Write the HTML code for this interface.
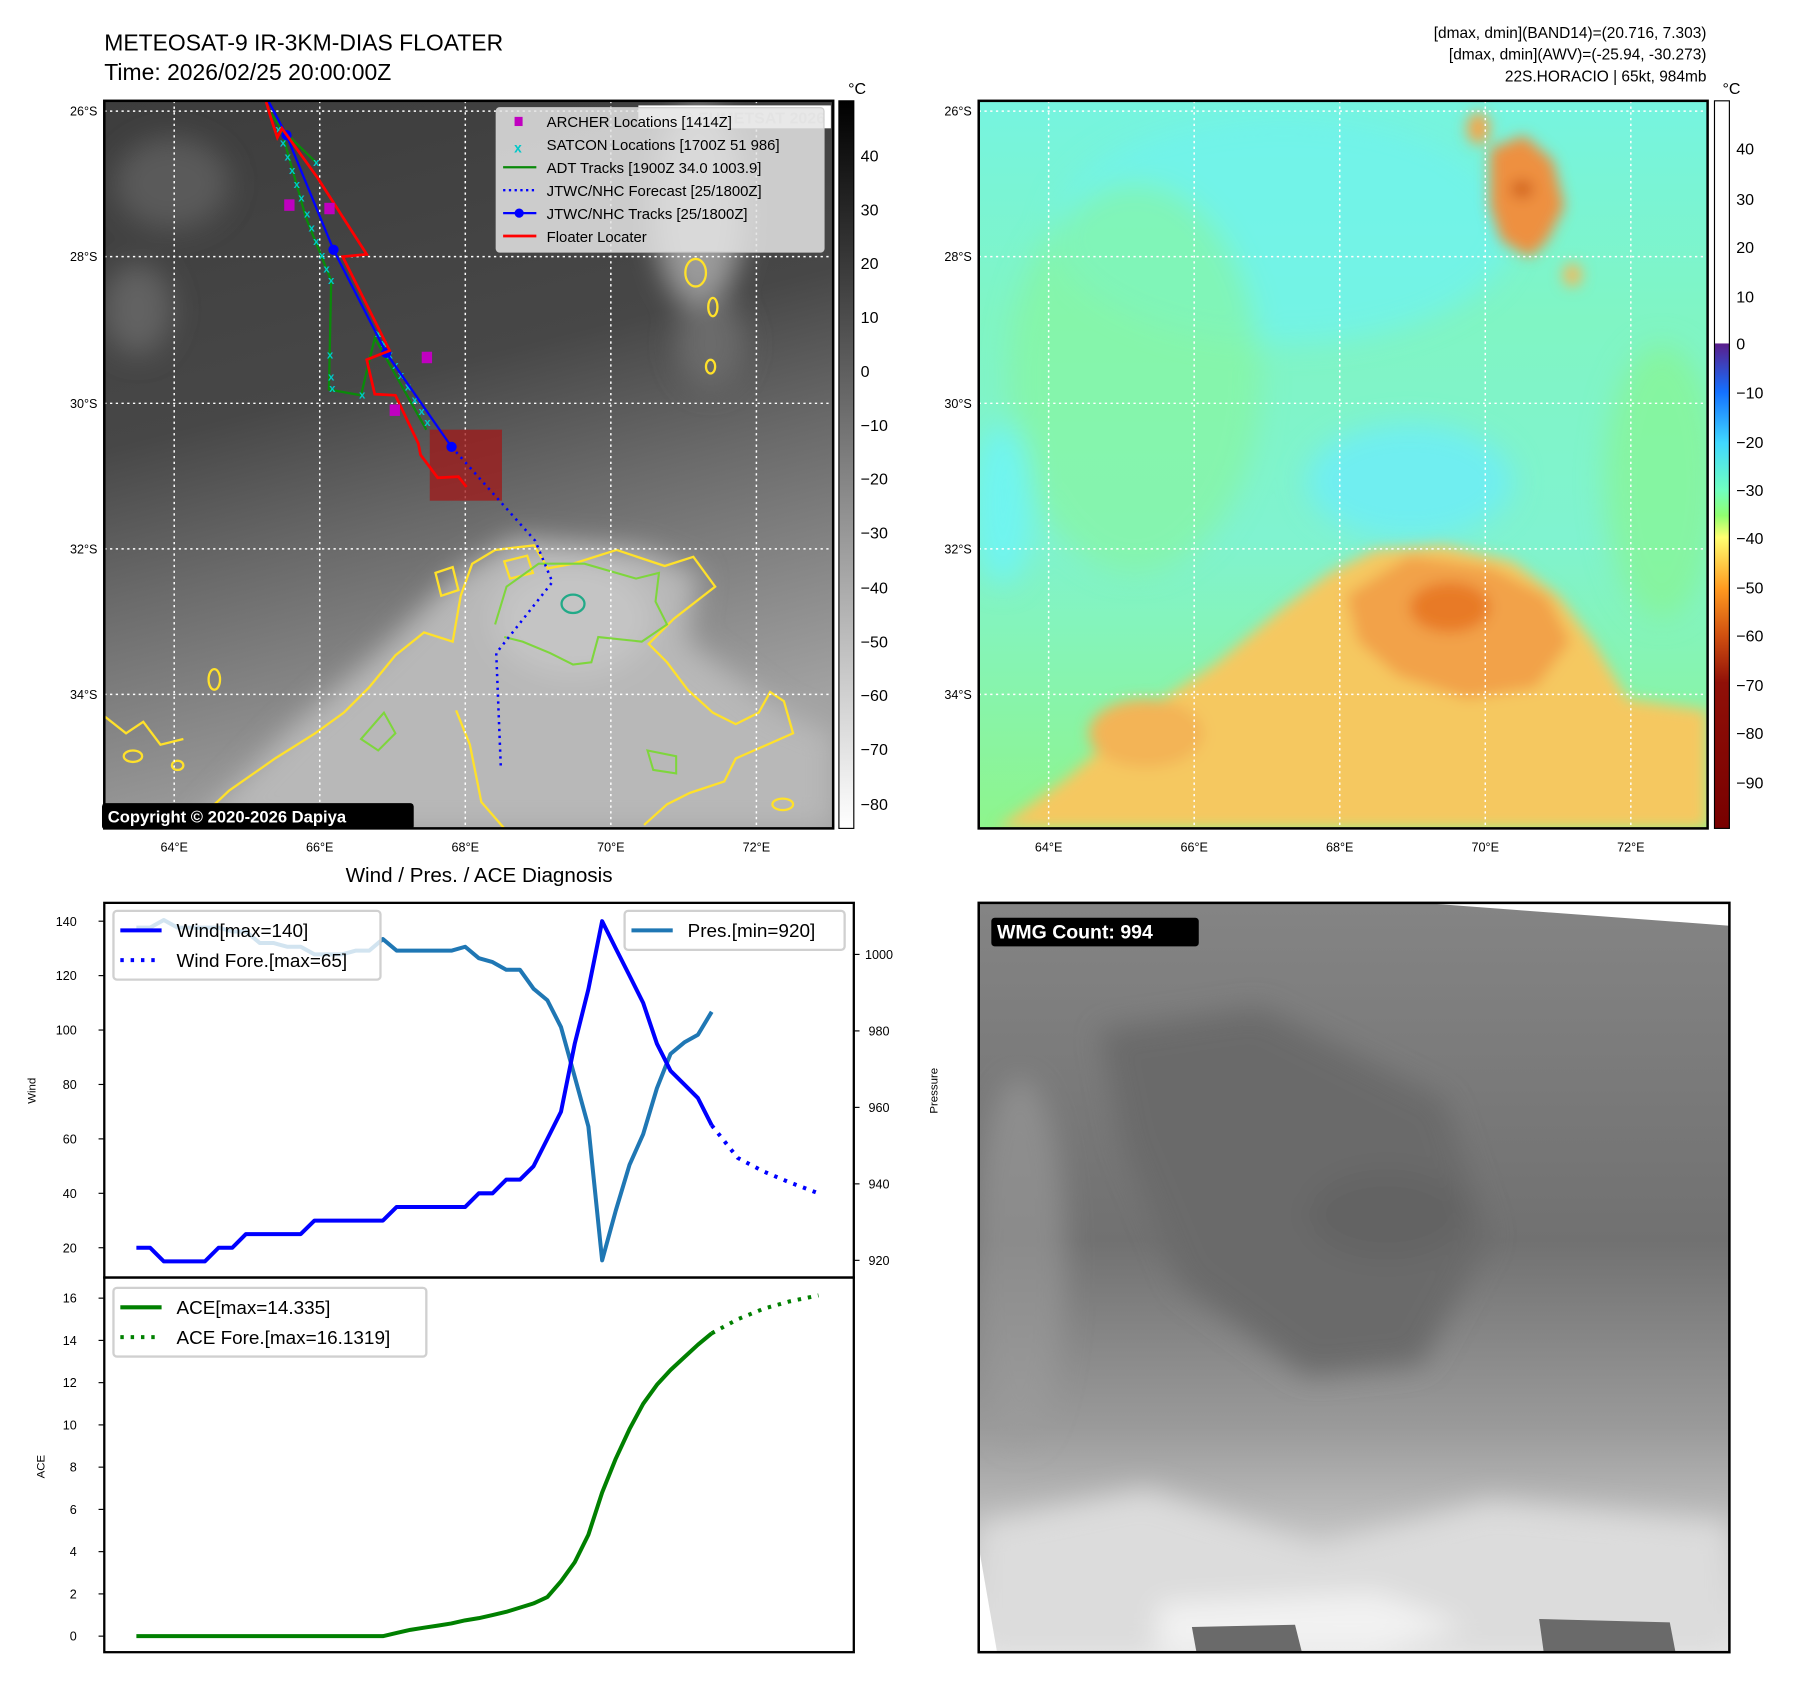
<!DOCTYPE html>
<html><head><meta charset="utf-8">
<style>
html,body{margin:0;padding:0;background:#fff;}
svg{display:block;font-family:"Liberation Sans","DejaVu Sans",sans-serif;}
</style></head>
<body>
<svg id="root" width="1797" height="1690" viewBox="0 0 1568 1475" preserveAspectRatio="none" xmlns="http://www.w3.org/2000/svg">
<defs>
 <linearGradient id="irbg" x1="0" y1="0" x2="0.25" y2="1">
  <stop offset="0" stop-color="#3d3d3d"/><stop offset="0.45" stop-color="#474747"/><stop offset="0.65" stop-color="#6a6a6a"/><stop offset="1" stop-color="#a2a2a2"/>
 </linearGradient>
 <linearGradient id="cbgray" x1="0" y1="0" x2="0" y2="1">
  <stop offset="0" stop-color="#000"/><stop offset="1" stop-color="#fff"/>
 </linearGradient>
 <linearGradient id="cbcol" x1="0" y1="0" x2="0" y2="1">
  <stop offset="0" stop-color="#fff"/><stop offset="0.333" stop-color="#fff"/>
  <stop offset="0.334" stop-color="#5a1e8c"/><stop offset="0.40" stop-color="#1470ff"/>
  <stop offset="0.47" stop-color="#40d8ff"/><stop offset="0.535" stop-color="#70ffc0"/>
  <stop offset="0.57" stop-color="#90ff70"/><stop offset="0.60" stop-color="#ffff70"/>
  <stop offset="0.67" stop-color="#ff9a20"/><stop offset="0.735" stop-color="#d05010"/>
  <stop offset="0.80" stop-color="#901008"/><stop offset="1" stop-color="#780000"/>
 </linearGradient>
 <linearGradient id="wvbg" x1="0" y1="0" x2="0" y2="1">
  <stop offset="0" stop-color="#76f4e0"/><stop offset="0.3" stop-color="#80f5c4"/><stop offset="0.6" stop-color="#80f3d0"/><stop offset="1" stop-color="#8ef58c"/>
 </linearGradient>
 <linearGradient id="mwbg" x1="0" y1="0" x2="0" y2="1">
  <stop offset="0" stop-color="#848484"/><stop offset="0.45" stop-color="#717171"/><stop offset="0.7" stop-color="#9a9a9a"/><stop offset="0.85" stop-color="#c4c4c4"/><stop offset="1" stop-color="#e8e8e8"/>
 </linearGradient>
 <filter id="blur12"><feGaussianBlur stdDeviation="12"/></filter>
 <filter id="blur6"><feGaussianBlur stdDeviation="6"/></filter>
 <clipPath id="clipL"><rect x="91" y="88" width="636" height="635"/></clipPath>
 <clipPath id="clipR"><rect x="854" y="88" width="636" height="635"/></clipPath>
 <clipPath id="clipM"><rect x="854" y="788" width="655" height="654"/></clipPath>
</defs>

<text x="91" y="44" font-size="20">METEOSAT-9 IR-3KM-DIAS FLOATER</text>
<text x="91" y="70" font-size="20">Time: 2026/02/25 20:00:00Z</text>
<g font-size="13.5" text-anchor="end">
 <text x="1489" y="33">[dmax, dmin](BAND14)=(20.716, 7.303)</text>
 <text x="1489" y="52">[dmax, dmin](AWV)=(-25.94, -30.273)</text>
 <text x="1489" y="71">22S.HORACIO | 65kt, 984mb</text>
</g>

<!-- IR map -->
<g clip-path="url(#clipL)">
 <rect x="91" y="88" width="636" height="635" fill="url(#irbg)"/>
 <g filter="url(#blur12)" fill="#b8b8b8">
  <path d="M170,723 L250,640 L330,570 L400,500 L450,470 L560,480 L610,500 L600,560 L680,620 L727,640 L727,723Z"/>
  <ellipse cx="500" cy="540" rx="70" ry="50" fill="#c4c4c4"/>
  <ellipse cx="610" cy="180" rx="40" ry="90" fill="#9a9a9a"/>
  <ellipse cx="150" cy="160" rx="50" ry="40" fill="#5a5a5a"/>
  <ellipse cx="120" cy="270" rx="30" ry="40" fill="#626262"/>
  <ellipse cx="620" cy="300" rx="30" ry="40" fill="#6a6a6a"/>
 </g>
 <g fill="none" stroke="#ffe12a" stroke-width="2">
  <path d="M165,723 L200,690 L240,662 L275,640 L300,622 L322,600 L345,572 L370,552 L395,560 L402,520 L412,492 L432,480 L466,476 L478,496 L500,492 L538,480 L580,494 L605,486 L624,512 L588,540 L566,562 L582,578 L600,602 L622,622 L642,632 L662,622 L672,604 L684,612 L692,640 L642,662 L632,682 L602,692 L582,702 L562,720"/>
  <path d="M91,625 L110,640 L125,630 L140,650 L160,645"/>
  <path d="M398,620 L410,650 L420,700 L440,723"/>
  <ellipse cx="607" cy="238" rx="9" ry="12"/>
  <ellipse cx="622" cy="268" rx="4" ry="8"/>
  <ellipse cx="620" cy="320" rx="4" ry="6"/>
  <ellipse cx="683" cy="702" rx="9" ry="5"/>
  <ellipse cx="187" cy="593" rx="5" ry="9"/>
  <ellipse cx="116" cy="660" rx="8" ry="5"/>
  <ellipse cx="155" cy="668" rx="5" ry="4"/>
  <path d="M380,500 L395,495 L400,515 L385,520Z"/>
  <path d="M440,490 L460,485 L465,500 L445,505Z"/>
 </g>
 <g fill="none" stroke="#7ed63c" stroke-width="1.8">
  <path d="M432,545 L442,512 L470,492 L510,492 L555,505 L575,500 L572,525 L582,545 L560,560 L522,556 L516,578 L500,580 L480,570 L456,560 L440,556"/>
  <path d="M335,622 L345,640 L330,655 L315,645Z"/>
  <path d="M565,655 L590,660 L590,675 L570,672Z"/>
 </g>
 <ellipse cx="500" cy="527" rx="10" ry="8" fill="none" stroke="#22aa88" stroke-width="2"/>
 <g stroke="#fff" stroke-width="1.3" stroke-dasharray="2,3">
  <line x1="152" y1="88" x2="152" y2="723"/><line x1="279" y1="88" x2="279" y2="723"/><line x1="406" y1="88" x2="406" y2="723"/><line x1="533" y1="88" x2="533" y2="723"/><line x1="660" y1="88" x2="660" y2="723"/>
  <line x1="91" y1="97" x2="727" y2="97"/><line x1="91" y1="224" x2="727" y2="224"/><line x1="91" y1="352" x2="727" y2="352"/><line x1="91" y1="479" x2="727" y2="479"/><line x1="91" y1="606" x2="727" y2="606"/>
 </g>
 <rect x="375" y="375" width="63" height="62" fill="#a01818" opacity="0.75"/>
 <polyline points="394,390 467,472 482,508 433,570 437,670" fill="none" stroke="#0000ff" stroke-width="2.2" stroke-dasharray="2,4"/>
 <polyline points="235,97 245,112 267,190 289,245 287,340 315,345 327,295 372,375" fill="none" stroke="#0a8a0a" stroke-width="2"/>
 <line x1="245" y1="112" x2="276" y2="142" stroke="#0a8a0a" stroke-width="2"/>
 <g fill="#00c8c8" font-size="10" text-anchor="middle" font-weight="bold">
  <text x="243" y="116">x</text><text x="247" y="128">x</text><text x="251" y="140">x</text><text x="255" y="152">x</text><text x="259" y="164">x</text><text x="263" y="176">x</text><text x="268" y="190">x</text><text x="272" y="202">x</text><text x="276" y="214">x</text><text x="281" y="226">x</text><text x="285" y="238">x</text><text x="289" y="248">x</text><text x="276" y="145">x</text>
  <text x="288" y="313">x</text><text x="289" y="332">x</text><text x="290" y="342">x</text><text x="316" y="348">x</text>
  <text x="330" y="294">x</text><text x="335" y="303">x</text><text x="340" y="313">x</text><text x="345" y="322">x</text><text x="350" y="331">x</text><text x="356" y="341">x</text><text x="362" y="352">x</text><text x="368" y="362">x</text><text x="373" y="372">x</text>
 </g>
 <polyline points="233,86 250,118 291,218 337,308 394,390" fill="none" stroke="#0000ff" stroke-width="2"/>
 <g fill="#0000ff"><circle cx="250" cy="118" r="4.5"/><circle cx="291" cy="218" r="4.5"/><circle cx="337" cy="308" r="4.5"/><circle cx="394" cy="390" r="4.5"/></g>
 <polyline points="232,88 237,105 242,120 246,112 277,155 320,222 299,224 340,306 320,314 327,344 345,345 365,387 367,397 382,417 400,416 407,425" fill="none" stroke="#ff0000" stroke-width="2.4"/>
 <g fill="#c000c0">
  <rect x="248" y="174" width="9" height="10"/><rect x="283" y="177" width="9" height="10"/><rect x="368" y="307" width="9" height="10"/><rect x="340" y="353" width="9" height="10"/>
 </g>
</g>
<rect x="91" y="88" width="636" height="635" fill="none" stroke="#000" stroke-width="2.2"/>
<g>
 <rect x="557" y="92" width="168" height="20" fill="#fff"/>
 <text x="720" y="108" font-size="14" font-weight="bold" fill="#ddd" text-anchor="end">© EUMETSAT 2026</text>
 <rect x="433" y="94" width="286" height="126" rx="3" fill="#e4e4e4" fill-opacity="0.85" stroke="#ccc"/>
 <rect x="449" y="102" width="7" height="8" fill="#c000c0"/>
 <text x="477" y="111" font-size="13">ARCHER Locations [1414Z]</text>
 <text x="452" y="133" font-size="12" fill="#00c8c8" text-anchor="middle" font-weight="bold">x</text>
 <text x="477" y="131" font-size="13">SATCON Locations [1700Z 51 986]</text>
 <line x1="439" y1="146" x2="468" y2="146" stroke="#0a8a0a" stroke-width="2"/>
 <text x="477" y="151" font-size="13">ADT Tracks [1900Z 34.0 1003.9]</text>
 <line x1="439" y1="166" x2="468" y2="166" stroke="#0000ff" stroke-width="2" stroke-dasharray="2,3"/>
 <text x="477" y="171" font-size="13">JTWC/NHC Forecast [25/1800Z]</text>
 <line x1="439" y1="186" x2="468" y2="186" stroke="#0000ff" stroke-width="2"/><circle cx="453" cy="186" r="4" fill="#0000ff"/>
 <text x="477" y="191" font-size="13">JTWC/NHC Tracks [25/1800Z]</text>
 <line x1="439" y1="206" x2="468" y2="206" stroke="#ff0000" stroke-width="2.4"/>
 <text x="477" y="211" font-size="13">Floater Locater</text>
</g>
<g>
 <rect x="89" y="701" width="272" height="23" rx="3" fill="#000"/>
 <text x="94" y="718" font-size="14.5" font-weight="bold" fill="#fff">Copyright © 2020-2026 Dapiya</text>
</g>
<g font-size="11">
 <g text-anchor="middle"><text x="152" y="743">64°E</text><text x="279" y="743">66°E</text><text x="406" y="743">68°E</text><text x="533" y="743">70°E</text><text x="660" y="743">72°E</text></g>
 <g text-anchor="end"><text x="85" y="101">26°S</text><text x="85" y="228">28°S</text><text x="85" y="356">30°S</text><text x="85" y="483">32°S</text><text x="85" y="610">34°S</text></g>
</g>
<g>
 <rect x="732" y="88" width="13" height="635" fill="url(#cbgray)" stroke="#000" stroke-width="1"/>
 <text x="740" y="82" font-size="14">°C</text>
 <g font-size="14">
  <text x="751" y="141">40</text><text x="751" y="188">30</text><text x="751" y="235">20</text><text x="751" y="282">10</text><text x="751" y="329">0</text><text x="751" y="376">−10</text><text x="751" y="423">−20</text><text x="751" y="470">−30</text><text x="751" y="518">−40</text><text x="751" y="565">−50</text><text x="751" y="612">−60</text><text x="751" y="659">−70</text><text x="751" y="707">−80</text>
 </g>
</g>

<!-- WV map -->
<g clip-path="url(#clipR)">
 <rect x="854" y="88" width="636" height="635" fill="url(#wvbg)"/>
 <g filter="url(#blur12)">
  <ellipse cx="1120" cy="200" rx="200" ry="100" fill="#70f2ec" opacity="0.8"/>
  <ellipse cx="990" cy="330" rx="110" ry="170" fill="#88f59a" opacity="0.6"/>
  <ellipse cx="875" cy="440" rx="25" ry="70" fill="#6ff4f0"/>
  <ellipse cx="1230" cy="420" rx="90" ry="50" fill="#70eef0"/>
  <ellipse cx="1450" cy="420" rx="50" ry="120" fill="#88f590" opacity="0.7"/>
 </g>
 <g filter="url(#blur6)">
  <path d="M870,723 L930,680 L1000,620 L1060,580 L1120,530 L1160,500 L1200,480 L1260,476 L1320,490 L1360,520 L1390,560 L1420,610 L1490,620 L1490,723Z" fill="#f5c860"/>
  <path d="M1175,520 L1230,485 L1300,495 L1350,520 L1370,560 L1340,600 L1280,610 L1220,590 L1185,560Z" fill="#f2a24a"/>
  <ellipse cx="1265" cy="530" rx="35" ry="22" fill="#e87a28"/>
  <path d="M1300,130 L1330,118 L1355,140 L1365,180 L1350,210 L1335,225 L1310,210 L1300,180Z" fill="#ee9040"/>
  <ellipse cx="1328" cy="165" rx="10" ry="8" fill="#d2641e"/>
  <ellipse cx="1290" cy="112" rx="10" ry="14" fill="#f5a548"/>
  <ellipse cx="1372" cy="240" rx="8" ry="10" fill="#f6b858"/>
  <ellipse cx="1000" cy="640" rx="50" ry="30" fill="#f3b456"/>
 </g>
 <g stroke="#fff" stroke-width="1.3" stroke-dasharray="2,3">
  <line x1="915" y1="88" x2="915" y2="723"/><line x1="1042" y1="88" x2="1042" y2="723"/><line x1="1169" y1="88" x2="1169" y2="723"/><line x1="1296" y1="88" x2="1296" y2="723"/><line x1="1423" y1="88" x2="1423" y2="723"/>
  <line x1="854" y1="97" x2="1490" y2="97"/><line x1="854" y1="224" x2="1490" y2="224"/><line x1="854" y1="352" x2="1490" y2="352"/><line x1="854" y1="479" x2="1490" y2="479"/><line x1="854" y1="606" x2="1490" y2="606"/>
 </g>
</g>
<rect x="854" y="88" width="636" height="635" fill="none" stroke="#000" stroke-width="2.2"/>
<g font-size="11">
 <g text-anchor="middle"><text x="915" y="743">64°E</text><text x="1042" y="743">66°E</text><text x="1169" y="743">68°E</text><text x="1296" y="743">70°E</text><text x="1423" y="743">72°E</text></g>
 <g text-anchor="end"><text x="848" y="101">26°S</text><text x="848" y="228">28°S</text><text x="848" y="356">30°S</text><text x="848" y="483">32°S</text><text x="848" y="610">34°S</text></g>
</g>
<g>
 <rect x="1496" y="88" width="13" height="635" fill="url(#cbcol)" stroke="#000" stroke-width="1"/>
 <text x="1503" y="82" font-size="14">°C</text>
 <g font-size="14">
  <text x="1515" y="135">40</text><text x="1515" y="179">30</text><text x="1515" y="221">20</text><text x="1515" y="264">10</text><text x="1515" y="305">0</text><text x="1515" y="348">−10</text><text x="1515" y="391">−20</text><text x="1515" y="433">−30</text><text x="1515" y="475">−40</text><text x="1515" y="518">−50</text><text x="1515" y="560">−60</text><text x="1515" y="603">−70</text><text x="1515" y="645">−80</text><text x="1515" y="688">−90</text>
 </g>
</g>

<!-- Microwave panel -->
<g clip-path="url(#clipM)">
 <rect x="854" y="788" width="655" height="654" fill="url(#mwbg)"/>
 <g filter="url(#blur12)">
  <path d="M960,900 L1100,880 L1260,960 L1300,1080 L1240,1190 L1140,1200 L1030,1120 L980,1000Z" fill="#6a6a6a"/>
  <ellipse cx="1210" cy="1060" rx="70" ry="40" fill="#646464"/>
  <path d="M854,1330 L1000,1300 L1150,1350 L1300,1310 L1509,1330 L1509,1442 L854,1442Z" fill="#dcdcdc"/>
  <path d="M1010,1400 L1200,1390 L1280,1420 L1200,1442 L1010,1442Z" fill="#f2f2f2"/>
  <ellipse cx="890" cy="1100" rx="40" ry="160" fill="#9c9c9c" opacity="0.6"/>
 </g>
 <polygon points="1240,788 1509,788 1509,808" fill="#fff"/>
 <polygon points="854,1350 854,1442 870,1442" fill="#fff"/>
 <polygon points="1040,1420 1130,1418 1136,1442 1044,1442" fill="#6a6a6a"/>
 <polygon points="1343,1413 1457,1416 1462,1442 1347,1442" fill="#6a6a6a"/>
</g>
<rect x="854" y="788" width="655" height="654" fill="none" stroke="#000" stroke-width="2.2"/>
<g>
 <rect x="865" y="801" width="181" height="25" rx="3" fill="#000"/>
 <text x="870" y="819" font-size="17" font-weight="bold" fill="#fff">WMG Count: 994</text>
</g>

<text x="418" y="770" font-size="18" text-anchor="middle">Wind / Pres. / ACE Diagnosis</text>
<g id="chart"></g>
</svg>

<script>
const windObs = [20,20,15,15,15,15,20,20,25,25,25,25,25,30,30,30,30,30,30,35,35,35,35,35,35,40,40,45,45,50,60,70,95,115,140,130,120,110,95,85,80,75,65];
const windFcstIdx = [42,43.9,45.8,47.7,49.8];
const windFcst = [65,53,48,44,40];
const presObs = [1007,1007,1009,1007,1007,1007,1007,1006,1006,1003,1003,1002,1002,1000,1000,1000,1001,1001,1004,1001,1001,1001,1001,1001,1002,999,998,996,996,991,988,981,968,955,920,933,945,953,965,974,977,979,985];
const aceObs = [0,0,0,0,0,0,0,0,0,0,0,0,0,0,0,0,0,0,0,0.15,0.3,0.4,0.5,0.6,0.75,0.85,1.0,1.15,1.35,1.55,1.85,2.6,3.5,4.8,6.8,8.4,9.8,11.0,11.9,12.6,13.2,13.8,14.335];
const aceFcstIdx = [42,43.9,45.8,47.7,49.8];
const aceFcst = [14.335,15.0,15.5,15.85,16.13];
const windTicks = [20,40,60,80,100,120,140];
const presTicks = [920,940,960,980,1000];
const aceTicks = [0,2,4,6,8,10,12,14,16];

const NS = 'http://www.w3.org/2000/svg';
const g = document.getElementById('chart');
const X0 = 91, X1 = 745, TOP = 788, MID = 1115, BOT = 1442;
const xAt = i => 119 + i * (621 - 119) / 42;
const yWind = v => 1089 - (v - 20) * (1089 - 804) / 120;
const yPres = v => 1100 - (v - 920) * (1100 - 833) / 80;
const yAce = v => 1428 - v * (1428 - 1133) / 16;

function mk(tag, attrs, parent) {
  const e = document.createElementNS(NS, tag);
  for (const k in attrs) e.setAttribute(k, attrs[k]);
  (parent || g).appendChild(e);
  return e;
}
function txt(x, y, s, size, anchor, parent) {
  const t = mk('text', {x: x, y: y, 'font-size': size, 'text-anchor': anchor || 'start'}, parent);
  t.textContent = s;
  return t;
}
function line(pts, color, w, dash, name) {
  const p = mk('polyline', {points: pts.map(p => p[0].toFixed(1) + ',' + p[1].toFixed(1)).join(' '), fill: 'none', stroke: color, 'stroke-width': w, 'stroke-linejoin': 'round'});
  if (dash) p.setAttribute('stroke-dasharray', dash);
  
  
  return p;
}

line(presObs.map((v, i) => [xAt(i), yPres(v)]), '#1f77b4', 3.5, null, 'pressure-line');
line(windObs.map((v, i) => [xAt(i), yWind(v)]), '#0000ff', 3.5, null, 'wind-line');
line(windFcst.map((v, i) => [xAt(windFcstIdx[i]), yWind(v)]), '#0000ff', 3.5, '3,6', 'wind-forecast-line');
line(aceObs.map((v, i) => [xAt(i), yAce(v)]), '#008000', 3.5, null, 'ace-line');
line(aceFcst.map((v, i) => [xAt(aceFcstIdx[i]), yAce(v)]), '#008000', 3.5, '3,6', 'ace-forecast-line');

const f1 = mk('rect', {x: X0, y: TOP, width: X1 - X0, height: MID - TOP, fill: 'none', stroke: '#000', 'stroke-width': 2});


const f2 = mk('rect', {x: X0, y: MID, width: X1 - X0, height: BOT - MID, fill: 'none', stroke: '#000', 'stroke-width': 2});



windTicks.forEach(v => {
  const y = yWind(v);
  mk('line', {x1: X0 - 5, y1: y, x2: X0, y2: y, stroke: '#000', 'stroke-width': 1});
  const t = txt(X0 - 24, y + 4, String(v), 11, 'end');
  
  
});
presTicks.forEach(v => {
  const y = yPres(v);
  mk('line', {x1: X1, y1: y, x2: X1 + 5, y2: y, stroke: '#000', 'stroke-width': 1});
  const t = txt(X1 + 22, y + 4, String(v), 11, 'middle');
  
  
});
aceTicks.forEach(v => {
  const y = yAce(v);
  mk('line', {x1: X0 - 5, y1: y, x2: X0, y2: y, stroke: '#000', 'stroke-width': 1});
  const t = txt(X0 - 24, y + 4, String(v), 11, 'end');
  
  
});
const yl1 = txt(0, 0, 'Wind', 10, 'middle');
yl1.setAttribute('transform', 'translate(31,952) rotate(-90)');


const yl2 = txt(0, 0, 'Pressure', 10, 'middle');
yl2.setAttribute('transform', 'translate(818,952) rotate(-90)');


const yl3 = txt(0, 0, 'ACE', 10, 'middle');
yl3.setAttribute('transform', 'translate(39,1280) rotate(-90)');



function legend(x, y, w, items, name) {
  const lg = mk('g', {});
  
  
  mk('rect', {x: x, y: y, width: w, height: items.length * 26 + 8, rx: 3, fill: '#fff', 'fill-opacity': 0.8, stroke: '#d0d0d0', 'stroke-width': 2}, lg);
  items.forEach((it, k) => {
    const yy = y + 17 + k * 26;
    const l = mk('line', {x1: x + 6, y1: yy, x2: x + 42, y2: yy, stroke: it[1], 'stroke-width': 3.5}, lg);
    if (it[2]) l.setAttribute('stroke-dasharray', '3,6');
    txt(x + 55, yy + 6, it[0], 16.5, 'start', lg);
  });
}
legend(99, 795, 233, [['Wind[max=140]', '#0000ff', false], ['Wind Fore.[max=65]', '#0000ff', true]], 'wind-legend');
legend(545, 795, 192, [['Pres.[min=920]', '#1f77b4', false]], 'pressure-legend');
legend(99, 1124, 273, [['ACE[max=14.335]', '#008000', false], ['ACE Fore.[max=16.1319]', '#008000', true]], 'ace-legend');
</script>
</body></html>
